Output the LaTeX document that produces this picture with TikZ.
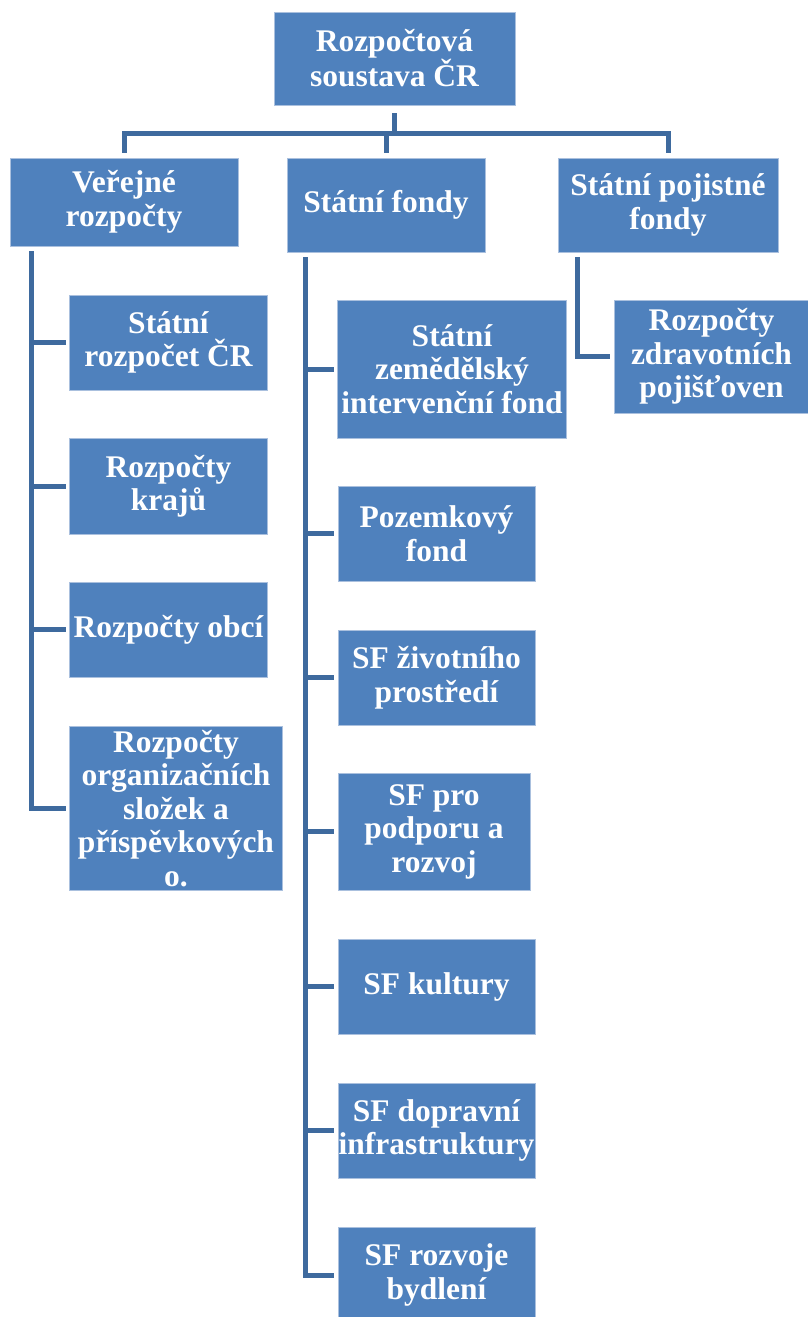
\documentclass[tikz,border=0pt]{standalone}
\usepackage{fontspec}
\setmainfont{Liberation Serif}
\definecolor{boxblue}{RGB}{79,129,189}
\definecolor{boxedge}{RGB}{170,192,222}
\definecolor{linkblue}{RGB}{62,106,158}
\tikzset{
  box/.style={fill=boxblue, draw=boxedge, line width=0.8pt, text=white,
    font=\bfseries\fontsize{31.5}{33.5}\selectfont, align=center, inner sep=0pt},
  conn/.style={draw=linkblue, line width=5pt, line cap=rect, line join=miter}
}
\begin{document}
\begin{tikzpicture}[x=1pt,y=-1pt]
\useasboundingbox (0,0) rectangle (808,1317);
% top
\node[box, minimum width=241, minimum height=93] (top) at (394.5,58.5) {Rozpočtová\\soustava ČR};
% level 2
\node[box, minimum width=228, minimum height=88] (v) at (124,202) {Veřejné\\rozpočty};
\node[box, minimum width=198, minimum height=94] (f) at (386,205) {Státní fondy};
\node[box, minimum width=220, minimum height=94] (p) at (668,205) {Státní pojistné\\fondy};
% children of v
\node[box, minimum width=198, minimum height=95] (v1) at (168.5,342.5) {Státní\\rozpočet ČR};
\node[box, minimum width=198, minimum height=96] (v2) at (168.5,486) {Rozpočty\\krajů};
\node[box, minimum width=198, minimum height=95] (v3) at (168.5,629.5) {Rozpočty obcí};
\node[box, minimum width=213, minimum height=164] (v4) at (176,808.5) {Rozpočty\\organizačních\\složek a\\příspěvkových\\o.};
% children of f
\node[box, minimum width=229, minimum height=138] (f1) at (452,369) {Státní\\zemědělský\\intervenční fond};
\node[box, minimum width=197, minimum height=95] (f2) at (436.5,533.5) {Pozemkový\\fond};
\node[box, minimum width=197, minimum height=95] (f3) at (436.5,677.5) {SF životního\\prostředí};
\node[box, minimum width=192, minimum height=117] (f4) at (434,831.5) {SF pro\\podporu a\\rozvoj};
\node[box, minimum width=197, minimum height=95] (f5) at (436.5,986.5) {SF kultury};
\node[box, minimum width=197, minimum height=95] (f6) at (436.5,1130.5) {SF dopravní\\infrastruktury};
\node[box, minimum width=197, minimum height=95] (f7) at (436.5,1275) {SF rozvoje\\bydlení};
% child of p
\node[box, minimum width=195, minimum height=113] (p1) at (711.5,356.5) {Rozpočty\\zdravotních\\pojišťoven};
% top connectors
\coordinate (hub) at (395,133);
\draw[conn] ([yshift=-10pt]top.south) -- (top.south |- hub);
\draw[conn] ([yshift=7pt]v.north) -- (v.north |- hub) -- (p.north |- hub) -- ([yshift=7pt]p.north);
\draw[conn] (f.north |- hub) -- ([yshift=7pt]f.north);
% left trunk
\coordinate (vl) at (31,253);
\draw[conn] (vl) |- ([xshift=-6pt]v4.west);
\foreach \c in {v1,v2,v3}{\draw[conn] (vl |- \c.west) -- ([xshift=-6pt]\c.west);}
% middle trunk
\coordinate (fl) at (305,259);
\draw[conn] (fl) |- ([xshift=-6pt]f7.west);
\foreach \c in {f1,f2,f3,f4,f5,f6}{\draw[conn] (fl |- \c.west) -- ([xshift=-6pt]\c.west);}
% right trunk
\coordinate (pl) at (577,259);
\draw[conn] (pl) |- ([xshift=-6pt]p1.west);
\end{tikzpicture}
\end{document}
